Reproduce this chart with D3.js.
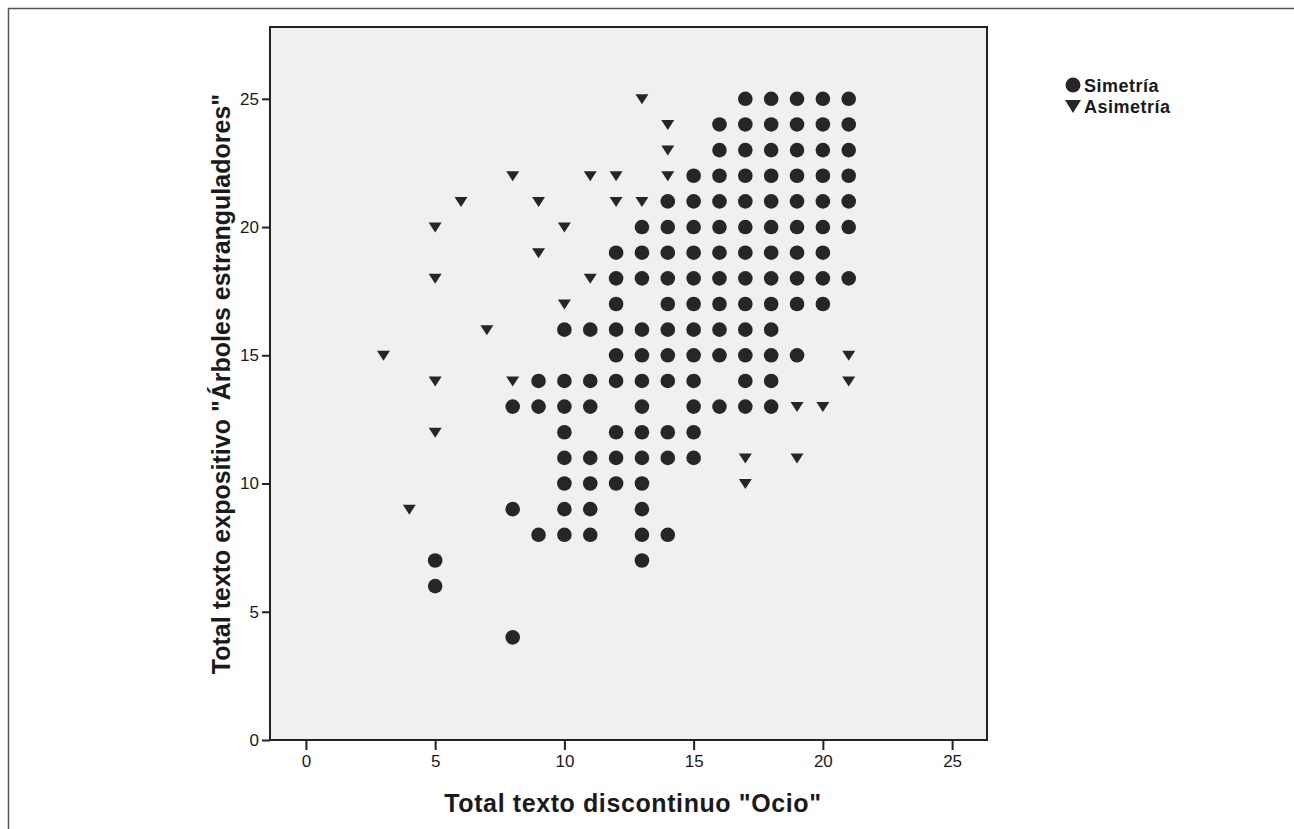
<!DOCTYPE html>
<html>
<head>
<meta charset="utf-8">
<style>
  body { margin: 0; background: #fff; }
  text { font-family: "Liberation Sans", Arial, sans-serif; fill: #1a1a1a; }
</style>
<script src="https://d3js.org/d3.v7.min.js"></script>
</head>
<body>
<svg id="chart" width="1294" height="829"></svg>
<script>
  // points: [x, y]
  const simetria = [
    [17,25],[18,25],[19,25],[20,25],[21,25],
    [16,24],[17,24],[18,24],[19,24],[20,24],[21,24],
    [16,23],[17,23],[18,23],[19,23],[20,23],[21,23],
    [15,22],[16,22],[17,22],[18,22],[19,22],[20,22],[21,22],
    [14,21],[15,21],[16,21],[17,21],[18,21],[19,21],[20,21],[21,21],
    [13,20],[14,20],[15,20],[16,20],[17,20],[18,20],[19,20],[20,20],[21,20],
    [12,19],[13,19],[14,19],[15,19],[16,19],[17,19],[18,19],[19,19],[20,19],
    [12,18],[13,18],[14,18],[15,18],[16,18],[17,18],[18,18],[19,18],[20,18],[21,18],
    [12,17],[14,17],[15,17],[16,17],[17,17],[18,17],[19,17],[20,17],
    [10,16],[11,16],[12,16],[13,16],[14,16],[15,16],[16,16],[17,16],[18,16],
    [12,15],[13,15],[14,15],[15,15],[16,15],[17,15],[18,15],[19,15],
    [9,14],[10,14],[11,14],[12,14],[13,14],[14,14],[15,14],[17,14],[18,14],
    [8,13],[9,13],[10,13],[11,13],[13,13],[15,13],[16,13],[17,13],[18,13],
    [10,12],[12,12],[13,12],[14,12],[15,12],
    [10,11],[11,11],[12,11],[13,11],[14,11],[15,11],
    [10,10],[11,10],[12,10],[13,10],
    [8,9],[10,9],[11,9],[13,9],
    [9,8],[10,8],[11,8],[13,8],[14,8],
    [5,7],[13,7],
    [5,6],
    [8,4]
  ];
  const asimetria = [
    [13,25],[14,24],[14,23],
    [8,22],[11,22],[12,22],[14,22],
    [6,21],[9,21],[12,21],[13,21],
    [5,20],[10,20],
    [9,19],
    [5,18],[11,18],
    [10,17],
    [7,16],
    [3,15],[21,15],
    [5,14],[8,14],[21,14],
    [19,13],[20,13],
    [5,12],
    [17,11],[19,11],
    [17,10],
    [4,9]
  ];
  const xTicks = [0, 5, 10, 15, 20, 25];
  const yTicks = [0, 5, 10, 15, 20, 25];
  const legendLabels = ['Simetría', 'Asimetría'];

  const svg = d3.select('#chart');
  const plot = { left: 270, right: 987, top: 27, bottom: 740 };
  const ink = '#262626';

  // outer frame of the figure (right and bottom edges fall outside the view)
  svg.append('rect')
    .attr('x', 8.5).attr('y', 8.5)
    .attr('width', 1300).attr('height', 840)
    .attr('fill', 'none').attr('stroke', '#555').attr('stroke-width', 1.5);

  const x = d3.scaleLinear().domain([-1.39, 26.35]).range([plot.left, plot.right]);
  const y = d3.scaleLinear().domain([0, 27.8]).range([plot.bottom, plot.top]);

  svg.append('rect')
    .attr('x', plot.left).attr('y', plot.top)
    .attr('width', plot.right - plot.left).attr('height', plot.bottom - plot.top)
    .attr('fill', '#f0f0f0').attr('stroke', '#222').attr('stroke-width', 2);

  const xAxis = svg.append('g')
    .attr('transform', `translate(0,${plot.bottom})`)
    .call(d3.axisBottom(x).tickValues(xTicks).tickSize(10).tickPadding(5));
  const yAxis = svg.append('g')
    .attr('transform', `translate(${plot.left},0)`)
    .call(d3.axisLeft(y).tickValues(yTicks).tickSize(8).tickPadding(3));
  [xAxis, yAxis].forEach(a => {
    a.select('.domain').remove();
    a.selectAll('.tick line').attr('stroke', '#222').attr('stroke-width', 2);
    a.selectAll('.tick text')
      .attr('fill', '#1a1a1a')
      .style('font-family', '"Liberation Sans", Arial, sans-serif')
      .style('font-size', '17px');
  });

  const marks = svg.append('g');
  marks.selectAll('circle.sim')
    .data(simetria)
    .join('circle')
    .attr('class', 'sim')
    .attr('cx', d => x(d[0]))
    .attr('cy', d => y(d[1]))
    .attr('r', 7.3)
    .attr('fill', ink);

  const tri = 'M-6.5,-4.5L6.5,-4.5L0,5.5Z';
  marks.selectAll('path.asim')
    .data(asimetria)
    .join('path')
    .attr('class', 'asim')
    .attr('d', tri)
    .attr('transform', d => `translate(${x(d[0])},${y(d[1])})`)
    .attr('fill', ink);

  // axis titles
  svg.append('text')
    .attr('x', 633).attr('y', 812)
    .attr('text-anchor', 'middle')
    .style('font-size', '25px').style('font-weight', 'bold')
    .style('letter-spacing', '0.6px')
    .text('Total texto discontinuo "Ocio"');
  svg.append('text')
    .attr('transform', `translate(230,384) rotate(-90)`)
    .attr('text-anchor', 'middle')
    .style('font-size', '25px').style('font-weight', 'bold')
    .text('Total texto expositivo "Árboles estranguladores"');

  // legend
  const legend = svg.append('g').attr('transform', 'translate(1073,85)');
  legend.append('circle').attr('cx', 0).attr('cy', 0).attr('r', 7.5).attr('fill', ink);
  legend.append('path').attr('d', 'M-8,15L8,15L0,28Z').attr('fill', ink);
  legend.selectAll('text')
    .data(legendLabels)
    .join('text')
    .attr('x', 11)
    .attr('y', (d, i) => 7 + i * 21)
    .style('font-size', '18px').style('font-weight', 'bold')
    .style('letter-spacing', '0.5px')
    .text(d => d);
</script>
</body>
</html>
